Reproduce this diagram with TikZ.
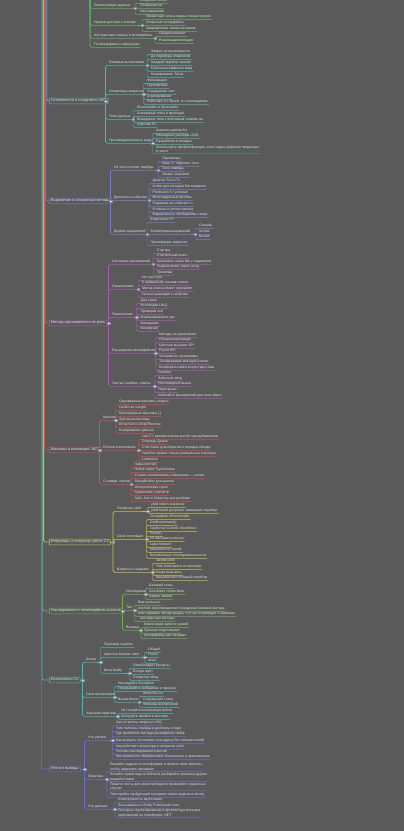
\documentclass[tikz,border=0pt]{standalone}
\usepackage{fontspec}
\setmainfont{Liberation Sans}
\usetikzlibrary{calc}
\pgfdeclarelayer{bg}\pgfsetlayers{bg,main}
\definecolor{bgc}{HTML}{5A5A5A}
\definecolor{txt}{HTML}{DEDEDE}
\definecolor{sqc}{HTML}{D6E4F5}
\definecolor{b1}{HTML}{5FB35F}
\definecolor{b2}{HTML}{4DB6AC}
\definecolor{b3}{HTML}{7B7BD4}
\definecolor{b4}{HTML}{A85CB0}
\definecolor{b5}{HTML}{D24B55}
\definecolor{b6}{HTML}{C8C04A}
\definecolor{b7}{HTML}{6AB04C}
\definecolor{b8}{HTML}{4FB3B3}
\definecolor{b9}{HTML}{6B6BCB}
\colorlet{bc}{b1}
\tikzset{
 leaf/.style={font=\fontsize{3.5}{4.2}\selectfont, text=txt, inner xsep=1pt, inner ysep=0.4pt, text height=2.7pt, text depth=0.8pt},
 leaftwo/.style={font=\fontsize{3.5}{4.2}\selectfont, text=txt, inner xsep=1pt, inner ysep=0.4pt, align=left},
 box/.style={draw=bc, line width=0.55pt, fill=bgc, rounded corners=0.8pt, font=\fontsize{3.8}{4.6}\selectfont, text=txt, inner xsep=1.6pt, inner ysep=1.1pt, text height=2.8pt, text depth=0.9pt},
 link/.style={draw=bc, line width=0.45pt, rounded corners=1.4pt},
 linkb/.style={draw=bc, line width=0.65pt, rounded corners=1.8pt},
 spine/.style={draw=bc, line width=0.8pt, rounded corners=1.5pt},
 sq/.style={fill=sqc, draw=sqc!60!black, line width=0.2pt, minimum size=2.4pt, inner sep=0pt},
}
% leaf: name, parent, x, y, text
\newcommand\leafn[5]{\node[leaf,anchor=west] (#1) at (#3,#4) {#5};
 \begin{pgfonlayer}{bg}\draw[link] (#2q) |- (#1.south east);\end{pgfonlayer}}
\newcommand\leafb[5]{\node[leaf,anchor=west] (#1) at (#3,#4) {#5};
 \begin{pgfonlayer}{bg}\draw[linkb] (#2q) |- (#1.south east);\end{pgfonlayer}}
\newcommand\leafd[5]{\node[leaftwo,anchor=west] (#1) at (#3,#4) {#5};
 \begin{pgfonlayer}{bg}\draw[link] (#2q) |- (#1.south east);\end{pgfonlayer}}
\newcommand\togl[2]{\coordinate (#1t) at (#2,0);
 \coordinate (#1q) at (#1.south east -| #1t);
 \begin{pgfonlayer}{bg}\draw[link] (#1.south east) -- (#1q);\end{pgfonlayer}
 \node[sq] (#1s) at (#1q) {};}
\newcommand\branchbox[5]{\node[box,anchor=west] (#1) at (#3,#4) {#5};
 \begin{pgfonlayer}{bg}\draw[spine] (#2,-10) |- (#1.west);\end{pgfonlayer}}
\newcommand\togb[2]{\coordinate (#1t) at (#2,0);
 \coordinate (#1q) at (#1.east -| #1t);
 \begin{pgfonlayer}{bg}\draw[linkb] (#1.east) -- (#1q);\end{pgfonlayer}
 \node[sq] (#1s) at (#1q) {};}

\begin{document}
\begin{tikzpicture}[x=1pt,y=-1pt]
\useasboundingbox (0,0) rectangle (404,831);
\begin{pgfonlayer}{bg}\fill[bgc] (0,0) rectangle (404,831);\end{pgfonlayer}

% ---------- branch 1 (top, green, parent off picture)
\begin{scope}
\colorlet{bc}{b1}
\coordinate (G0q) at (90,-20);
\leafb{Ga}{G0}{93}{6}{Инкапсуляция данных}\togl{Ga}{135}
 \leafn{Ga1}{Ga}{139}{1}{Сокрытие полей}
 \leafn{Ga2}{Ga}{139}{6}{Отображение}
 \leafn{Ga3}{Ga}{139}{12}{Наследование}
\leafb{Gb}{G0}{93}{23}{Уровни доступа к членам}\togl{Gb}{142}
 \leafn{Gb1}{Gb}{145}{17}{Приватные члены видны только внутри}
 \leafn{Gb2}{Gb}{145}{23}{Открытые интерфейсы}
 \leafn{Gb3}{Gb}{145}{29}{Защищённые члены потомков}
\leafb{Gc}{G0}{93}{36}{Абстрактные классы и интерфейсы}\togl{Gc}{155}
 \leafn{Gc1}{Gc}{158}{34}{Общий контракт}
 \leafn{Gc2}{Gc}{158}{41}{Реализация методов}
\leafb{Gd}{G0}{93}{45}{Полиморфизм и перегрузка}
\end{scope}

% ---------- branch 2 (teal)
\begin{scope}
\colorlet{bc}{b2}
\branchbox{B2}{46.8}{49}{101}{Особенности и следствия LINQ}\togb{B2}{105.5}
\leafb{Ta}{B2}{108}{63}{Ленивые вычисления}\togl{Ta}{147}
 \leafn{Ta1}{Ta}{150}{52}{Запрос не выполняется}
 \leafn{Ta2}{Ta}{150}{57}{До перебора элементов}
 \leafn{Ta3}{Ta}{150}{63}{Каждый перебор заново}
 \leafn{Ta4}{Ta}{150}{69}{Побочные эффекты кода}
 \leafn{Ta5}{Ta}{150}{75}{Кэширование ToList}
\leafb{Tb}{B2}{108}{92}{Операторы запросов}\togl{Tb}{143.5}
 \leafn{Tb1}{Tb}{146}{81}{Фильтрация}
 \leafn{Tb2}{Tb}{146}{86}{Группировка}
 \leafn{Tb3}{Tb}{146}{92}{Соединение Join}
 \leafn{Tb4}{Tb}{146}{97}{Агрегирование}
 \leafn{Tb5}{Tb}{146}{102}{Работают и с базой, и с коллекциями}
\leafb{Tc}{B2}{108}{117}{Типы данных}\togl{Tc}{133}
 \leafn{Tc1}{Tc}{136}{108}{IEnumerable и IQueryable}
 \leafn{Tc2}{Tc}{136}{114}{Анонимные типы в проекции}
 \leafn{Tc3}{Tc}{136}{120}{Выведение типа с ключевым словом var}
 \leafn{Tc4}{Tc}{136}{125}{Кортежи C\#}
\leafb{Td}{B2}{108}{141}{Производительность кода}\togl{Td}{152.5}
 \leafn{Td1}{Td}{155}{131}{Аналоги циклов for}
 \leafn{Td2}{Td}{155}{136}{Накладные расходы LINQ}
 \leafn{Td3}{Td}{155}{142}{Разработка и отладка}
 \leafd{Td4}{Td}{155}{149.5}{Используйте профилировщик, если запрос работает медленно\\и часто}
\end{scope}

% ---------- branch 3 (slate purple)
\begin{scope}
\colorlet{bc}{b3}
\branchbox{B3}{46.0}{49}{201}{Выражения и анонимные методы}\togb{B3}{110.5}
\leafb{Pa}{B3}{113}{168}{Из чего состоят лямбды}\togl{Pa}{158}
 \leafn{Pa1}{Pa}{161}{159}{Параметры}
 \leafn{Pa2}{Pa}{161}{164}{Знак => отделяет тело}
 \leafn{Pa3}{Pa}{161}{169}{Тело лямбды}
 \leafn{Pa4}{Pa}{161}{175}{Захват значений}
\leafb{Pb}{B3}{113}{198}{Делегаты и события}\togl{Pb}{149}
 \leafn{Pb1}{Pb}{151.5}{181}{Делегат Func<T>}
 \leafn{Pb2}{Pb}{151.5}{187}{Action для методов без возврата}
 \leafn{Pb3}{Pb}{151.5}{193}{Predicate<T> условия}
 \leafn{Pb4}{Pb}{151.5}{198}{Многоадресные вызовы}
 \leafn{Pb5}{Pb}{151.5}{204}{Подписка на события +=}
 \leafn{Pb6}{Pb}{151.5}{210}{Отписка и утечки памяти}
 \leafn{Pb7}{Pb}{151.5}{215}{Вариантность обобщённых типов}
\leafb{Pc}{B3}{113}{232}{Дерево выражений}\togl{Pc}{147}
 \leafn{Pc1}{Pc}{149.5}{220}{Expression<T>}
 \leafn{Pc2}{Pc}{149.5}{232}{Компиляция выражений}\togl{Pc2}{195}
  \leafn{Pc2a}{Pc2}{198}{226}{Compile}
  \leafn{Pc2b}{Pc2}{198}{232}{Invoke}
  \leafn{Pc2c}{Pc2}{198}{237}{Вызов}
 \leafn{Pc3}{Pc}{149.5}{243}{Провайдеры запросов}
\end{scope}

% ---------- branch 4 (magenta)
\begin{scope}
\colorlet{bc}{b4}
\branchbox{B4}{45.2}{49}{323}{Методы расширения и их роль}\togb{B4}{108.5}
\leafb{Ma}{B4}{111}{262}{Синтаксис расширений}\togl{Ma}{153}
 \leafn{Ma1}{Ma}{156}{251}{Статика}
 \leafn{Ma2}{Ma}{156}{256}{Статический класс}
 \leafn{Ma3}{Ma}{156}{262}{Ключевое слово this у параметра}
 \leafn{Ma4}{Ma}{156}{267}{Подключение через using}
 \leafn{Ma5}{Ma}{156}{273}{Примеры}
\leafb{Mb}{B4}{111}{287}{Ограничения}\togl{Mb}{138}
 \leafn{Mb1}{Mb}{141}{278}{Нет доступа}
 \leafn{Mb2}{Mb}{141}{283}{К приватным членам класса}
 \leafn{Mb3}{Mb}{141}{289}{Метод класса имеет приоритет}
 \leafn{Mb4}{Mb}{141}{295}{Нельзя расширить свойство}
\leafb{Mc}{B4}{111}{315}{Применение}\togl{Mc}{136.5}
 \leafn{Mc1}{Mc}{139.5}{301}{Для строк}
 \leafn{Mc2}{Mc}{139.5}{306}{Коллекции LINQ}
 \leafn{Mc3}{Mc}{139.5}{312}{Проверки null}
 \leafn{Mc4}{Mc}{139.5}{318}{Форматирование дат}
 \leafn{Mc5}{Mc}{139.5}{324}{Валидация}
 \leafn{Mc6}{Mc}{139.5}{329}{Конверсия}
\leafb{Md}{B4}{111}{351}{Расширения интерфейсов}\togl{Md}{155.5}
 \leafn{Md1}{Md}{158}{335}{Методы по умолчанию}
 \leafn{Md2}{Md}{158}{340}{Общая реализация}
 \leafn{Md3}{Md}{158}{346}{Цепочки вызовов API}
 \leafn{Md4}{Md}{158}{351}{Fluent API}
 \leafn{Md5}{Md}{158}{357}{Читаемость программы}
 \leafn{Md6}{Md}{158}{362}{Тестирование методов-утилит}
 \leafn{Md7}{Md}{158}{368}{Конфликты имён в пространствах}
\leafb{Me}{B4}{111}{384}{Частые ошибки, советы}\togl{Me}{154.5}
 \leafn{Me1}{Me}{157}{373}{Ошибки}
 \leafn{Me2}{Me}{157}{379}{Забытый using}
 \leafn{Me3}{Me}{157}{384}{Неочевидный вызов}
 \leafn{Me4}{Me}{157}{390}{Перегрузки}
 \leafn{Me5}{Me}{157}{396}{Избегайте расширений для типа object}
\end{scope}

% ---------- branch 5 (red)
\begin{scope}
\colorlet{bc}{b5}
\branchbox{B5}{44.4}{49}{450}{Массивы и коллекции .NET}\togb{B5}{99.5}
\leafb{Ra}{B5}{102}{418}{Массив}\togl{Ra}{115.5}
 \leafn{Ra1}{Ra}{118}{402}{Одномерные массивы, индекс}
 \leafn{Ra2}{Ra}{118}{408}{Свойство Length}
 \leafn{Ra3}{Ra}{118}{414}{Многомерные массивы [,]}
 \leafn{Ra4}{Ra}{118}{420}{Зубчатые массивы}
 \leafn{Ra5}{Ra}{118}{425}{Array.Sort и Array.Reverse}
 \leafn{Ra6}{Ra}{118}{431}{Копирование данных}
\leafb{Rb}{B5}{102}{448}{Списки и коллекции}\togl{Rb}{138.5}
 \leafn{Rb1}{Rb}{141}{437}{List<T> автоматически растёт при добавлении}
 \leafn{Rb2}{Rb}{141}{442}{Очередь Queue}
 \leafn{Rb3}{Rb}{141}{448}{Стек Stack для обратного порядка обхода}
 \leafn{Rb4}{Rb}{141}{454}{HashSet хранит только уникальные значения}
 \leafn{Rb5}{Rb}{141}{460}{LinkedList}
\leafb{Rc}{B5}{102}{482}{Словари, строки}\togl{Rc}{131}
 \leafn{Rc1}{Rc}{133.5}{465}{Пары ключей}
 \leafn{Rc2}{Rc}{133.5}{470}{Поиск через TryGetValue}
 \leafn{Rc3}{Rc}{133.5}{476}{Строки неизменяемы, изменение — копия}
 \leafn{Rc4}{Rc}{133.5}{482}{StringBuilder для циклов}
 \leafn{Rc5}{Rc}{133.5}{488}{Интерполяция строк}
 \leafn{Rc6}{Rc}{133.5}{493}{Сравнение и регистр}
 \leafn{Rc7}{Rc}{133.5}{499}{Split, Join и Substring для разбора}
\end{scope}

% ---------- branch 6 (yellow)
\begin{scope}
\colorlet{bc}{b6}
\branchbox{B6}{43.6}{49}{542}{Итераторы и оператор yield в C\#}\togb{B6}{113}
\leafb{Ya}{B6}{116}{509}{Оператор yield}\togl{Ya}{147.5}
 \leafn{Ya1}{Ya}{150}{505}{yield return значение}
 \leafn{Ya2}{Ya}{150}{511}{yield break досрочно завершает перебор}
\leafb{Yb}{B6}{116}{537}{Свои коллекции}\togl{Yb}{146.5}
 \leafn{Yb1}{Yb}{149}{517}{Интерфейс IEnumerable}
 \leafn{Yb2}{Yb}{149}{523}{GetEnumerator()}
 \leafn{Yb3}{Yb}{149}{529}{Свойство Current, MoveNext}
 \leafn{Yb4}{Yb}{149}{534}{Reset()}
 \leafn{Yb5}{Yb}{149}{539}{Из массива в список}
 \leafn{Yb6}{Yb}{149}{545}{Цикл foreach}
 \leafn{Yb7}{Yb}{149}{550}{Машина состояний}
 \leafn{Yb8}{Yb}{149}{556}{Бесконечные последовательности}
\leafb{Yc}{B6}{116}{570}{Вопросы к заданию}\togl{Yc}{152.5}
 \leafn{Yc1}{Yc}{155}{561}{Зачем yield}
 \leafn{Yc2}{Yc}{155}{567}{Чем отличается от массива}
 \leafn{Yc3}{Yc}{155}{573}{Когда вызывать}
 \leafn{Yc4}{Yc}{155}{578}{Как работает ленивый перебор}
\end{scope}

% ---------- branch 7 (green)
\begin{scope}
\colorlet{bc}{b7}
\branchbox{B7}{42.8}{49}{611}{Наследование и полиморфизм классов}\togb{B7}{122.5}
\leafb{Gra}{B7}{125}{592}{Наследники}\togl{Gra}{145.5}
 \leafn{Gra1}{Gra}{148}{586}{Базовый класс}
 \leafn{Gra2}{Gra}{148}{592}{Ключевое слово base}
 \leafn{Gra3}{Gra}{148}{597}{Запрет sealed}
\leafb{Grb}{B7}{125}{608}{Тип}\togl{Grb}{134.5}
 \leafn{Grb1}{Grb}{137}{603}{Виртуальные}
 \leafn{Grb2}{Grb}{137}{609}{override переопределяет поведение базового метода}
 \leafn{Grb3}{Grb}{137}{614}{new скрывает метод предка, что часто приводит к ошибкам}
 \leafn{Grb4}{Grb}{139}{619}{Абстрактные методы}
\leafb{Grc}{B7}{125}{628}{Выводы}\togl{Grc}{140.5}
 \leafn{Grc1}{Grc}{143}{625}{Композиция вместо связей}
 \leafn{Grc2}{Grc}{143}{631}{Принцип подстановки}
 \leafn{Grc3}{Grc}{143}{636}{Интерфейсы как контракт}
\end{scope}

% ---------- branch 8 (teal)
\begin{scope}
\colorlet{bc}{b8}
\branchbox{B8}{42.0}{49}{680}{Исключения C\#}\togb{B8}{82.5}
\leafb{Ca}{B8}{85}{660}{Блоки}\togl{Ca}{100.5}
 \leafn{Ca1}{Ca}{103}{645}{Перехват ошибок}
 \leafn{Ca2}{Ca}{103}{655}{Цепочка блоков catch}\togl{Ca2}{144.5}
  \leafn{Ca2a}{Ca2}{147}{650}{Общий}
  \leafn{Ca2b}{Ca2}{147}{655}{Поиск}
  \leafn{Ca2c}{Ca2}{147}{661}{when}
 \leafn{Ca3}{Ca}{103}{671}{Блок finally}\togl{Ca3}{129.5}
  \leafn{Ca3a}{Ca3}{132}{666}{Освобождает ресурсы}
  \leafn{Ca3b}{Ca3}{132}{672}{Всегда идёт}
  \leafn{Ca3c}{Ca3}{132}{678}{Оператор using}
\leafb{Cb}{B8}{85}{695}{Свои исключения}\togl{Cb}{114.5}
 \leafn{Cb1}{Cb}{117}{684}{Наследуйте Exception}
 \leafn{Cb2}{Cb}{117}{689}{Передавайте сообщение и причину}
 \leafn{Cb3}{Cb}{117}{700}{Вызов throw}\togl{Cb3}{139}
  \leafn{Cb3a}{Cb3}{142}{694}{throw без ex}
  \leafn{Cb3b}{Cb3}{142}{700}{Сохранение стека}
  \leafn{Cb3c}{Cb3}{142}{705}{Фильтры исключений}
\leafb{Cc}{B8}{85}{714}{Хорошая практика}\togl{Cc}{117.5}
 \leafn{Cc1}{Cc}{120}{711}{Не глотайте исключения молча}
 \leafn{Cc2}{Cc}{120}{717}{Логируйте ошибки и контекст}
\end{scope}

% ---------- branch 9 (blue)
\begin{scope}
\colorlet{bc}{b9}
\branchbox{B9}{41.2}{49}{769}{Итоги и выводы}\togb{B9}{84.5}
\leafb{La}{B9}{87}{738}{Что узнали}\togl{La}{112.5}
 \leafn{La1}{La}{115}{723}{Как устроены запросы LINQ}
 \leafn{La2}{La}{115}{729}{Чем полезны лямбды и делегаты в коде}
 \leafn{La3}{La}{115}{734}{Где применять методы расширения типов}
 \leafn{La4}{La}{115}{741}{Как выбрать коллекцию под задачу без лишних копий}
 \leafn{La5}{La}{115}{747}{Как работают итераторы и оператор yield}
 \leafn{La6}{La}{115}{752}{Основы наследования классов}
 \leafn{La7}{La}{115}{757}{Как правильно обрабатывать исключения в приложениях}
\leafb{Lb}{B9}{87}{777}{Практика}\togl{Lb}{106.5}
 \leafd{Lb1}{Lb}{109}{767}{Решайте задачи на платформах и пишите свои проекты,\\чтобы закрепить материал}
 \leafd{Lb2}{Lb}{109}{777}{Читайте чужой код на GitHub и разбирайте решения других\\разработчиков}
 \leafd{Lb3}{Lb}{109}{786.5}{Пишите тесты для своих методов и проверяйте граничные\\случаи}
 \leafn{Lb4}{Lb}{109}{795}{Повторяйте пройденный материал через неделю и месяц}
\leafb{Lc}{B9}{87}{807}{Что дальше}\togl{Lc}{114.5}
 \leafn{Lc1}{Lc}{117}{800}{Асинхронность async/await}
 \leafn{Lc2}{Lc}{117}{806}{Базы данных и Entity Framework Core}
 \leafd{Lc3}{Lc}{117}{813}{Паттерны проектирования и архитектура больших\\приложений на платформе .NET}
\end{scope}
\end{tikzpicture}
\end{document}
